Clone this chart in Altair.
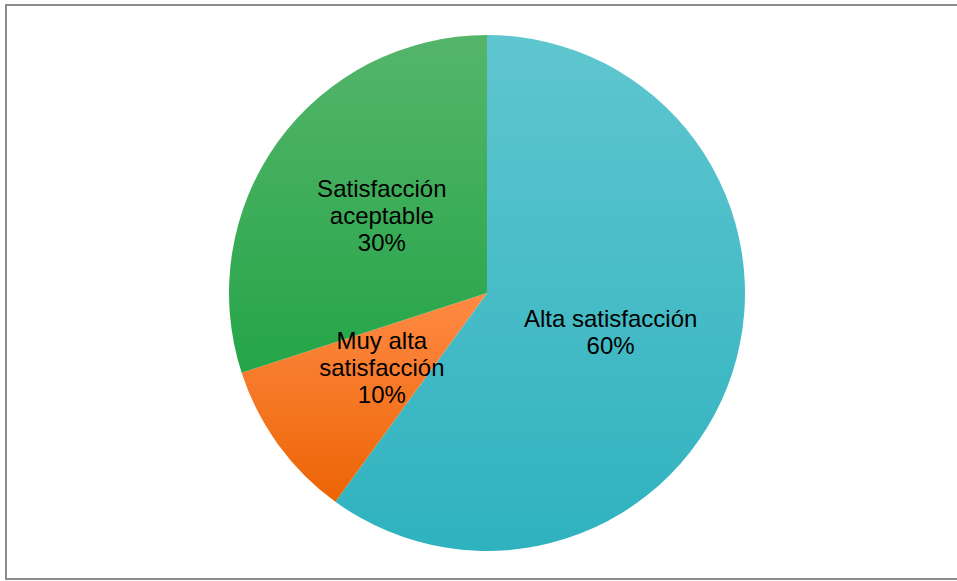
import altair as alt
import pandas as pd

categories = ["Alta satisfacción", "Muy alta satisfacción", "Satisfacción aceptable"]
values = [60, 10, 30]
label_lines = [["Alta satisfacción", "60%"], ["Muy alta", "satisfacción", "10%"], ["Satisfacción", "aceptable", "30%"]]
order = [1, 2, 3]

df = pd.DataFrame({"cat": categories, "v": values, "ord": order,
                   "lbl": ["\n".join(l) for l in label_lines],
                   "nl": [len(l) for l in label_lines]})

def grad(top, bottom):
    return {"gradient": "linear", "x1": 0, "y1": 0, "x2": 0, "y2": 1,
            "stops": [{"offset": 0, "color": top}, {"offset": 1, "color": bottom}]}

g_cyan = grad("#5fc6cf", "#2fb2bf")
g_orange = grad("#ff8a45", "#ec6404")
g_green = grad("#55b56b", "#25a548")

base = alt.Chart(df).encode(
    theta=alt.Theta("v:Q", stack=True),
    order=alt.Order("ord:Q"),
)

pie = base.mark_arc(outerRadius=258).encode(
    x=alt.value(487), y=alt.value(293),
    fill={"condition": [
        {"test": "datum.cat === 'Alta satisfacción'", "value": g_cyan},
        {"test": "datum.cat === 'Muy alta satisfacción'", "value": g_orange}],
        "value": g_green},
)

LH = 27
text_layers = []
for n in (2, 3):
    t = base.transform_calculate(
        t=f"datum.nl === {n} ? datum.lbl : ''"
    ).mark_text(radius=130, font="Liberation Sans", fontSize=24, color="black",
                lineBreak="\n", lineHeight=LH, baseline="middle", align="center",
                dy=-(n - 1) / 2 * LH).encode(
        x=alt.value(487), y=alt.value(293),
        text="t:N",
    )
    text_layers.append(t)

frame = alt.Chart(df).mark_rect(fill=None, stroke="#8c8c8c", strokeWidth=2).encode(
    x=alt.value(6), x2=alt.value(962), y=alt.value(5), y2=alt.value(579)
)

chart = alt.layer(frame, pie, *text_layers).properties(
    width=957, height=581, padding=0, autosize=alt.AutoSizeParams(type="none")
).configure_view(stroke=None)

chart.save("out.html", embed_options={"renderer": "svg", "actions": False})
